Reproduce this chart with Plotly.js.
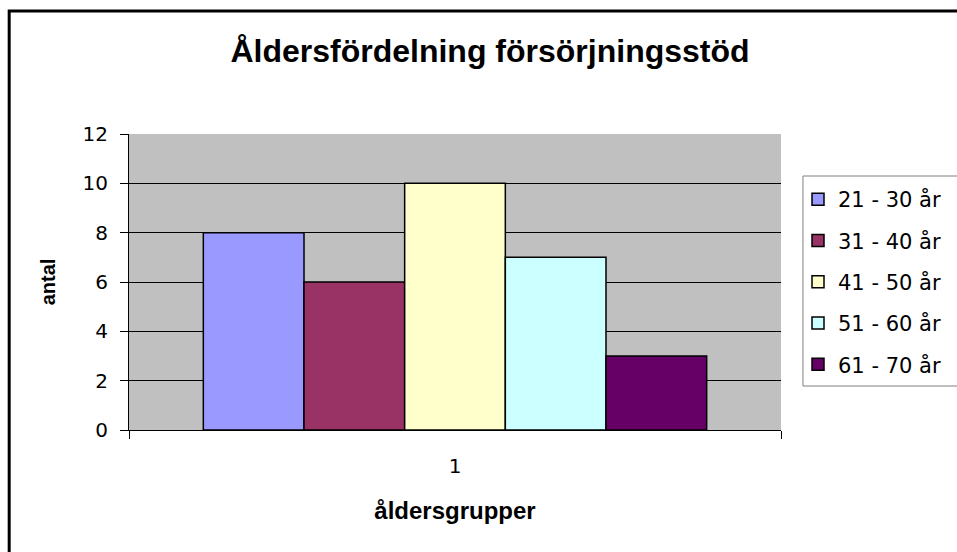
<!DOCTYPE html>
<html>
<head>
<meta charset="utf-8">
<script src="https://cdn.plot.ly/plotly-3.0.1.min.js"></script>
<style>html,body{margin:0;padding:0;background:#fff;}#chart{width:957px;height:552px;}</style>
</head>
<body>
<div id="chart"></div>
<script>
const categories = ['1'];
const seriesNames = ['21 - 30 år', '31 - 40 år', '41 - 50 år', '51 - 60 år', '61 - 70 år'];
const seriesValues = [[8], [6], [10], [7], [3]];
const seriesColors = ['#9999FF', '#993366', '#FFFFCC', '#CCFFFF', '#660066'];
const yTicks = [0, 2, 4, 6, 8, 10, 12];

const BOLD = 'Liberation Sans, Arial, sans-serif';
const WIDE = 'DejaVu Sans, Liberation Sans, sans-serif';
const traces = seriesNames.map((name, i) => ({
  type: 'bar',
  name: name,
  x: categories,
  y: seriesValues[i],
  legendgroup: 'g' + i,
  marker: {color: seriesColors[i], line: {color: '#000', width: 1.5}},
  hoverinfo: 'skip'
}));

const L = 129, R = 782, T = 134, B = 430, W = 957, H = 552;
const pw = R - L, ph = B - T;
const px = v => (v - L) / pw;
const py = v => (B - v) / ph;

const layout = {
  width: W, height: H,
  margin: {l: L, r: W - R, t: T, b: H - B, pad: 0},
  paper_bgcolor: '#ffffff',
  plot_bgcolor: '#C0C0C0',
  font: {family: WIDE, color: '#000', size: 20},
  barmode: 'group',
  bargap: 0.228,
  bargroupgap: 0,
  title: {text: '<b>Åldersfördelning försörjningsstöd</b>', font: {family: BOLD, size: 32, color: '#000'},
          x: 490 / W, xanchor: 'center', y: 1 - 51 / H, yanchor: 'middle'},
  xaxis: {
    type: 'category', range: [-0.5, 0.5],
    showline: true, linecolor: '#000', linewidth: 1,
    ticks: 'outside', tickson: 'boundaries', ticklen: 8, tickcolor: '#000', tickwidth: 1,
    ticklabelstandoff: 18,
    showgrid: false, zeroline: false,
    tickfont: {family: WIDE, size: 20, color: '#000'},
    title: {text: '<b>åldersgrupper</b>', font: {family: BOLD, size: 24, color: '#000'}, standoff: 25}
  },
  yaxis: {
    range: [0, 12], tickvals: yTicks, ticktext: yTicks.map(String),
    showline: true, linecolor: '#000', linewidth: 1,
    ticks: 'outside', ticklen: 8, tickcolor: '#000', tickwidth: 1,
    ticklabelstandoff: 8,
    showgrid: true, gridcolor: '#000', gridwidth: 1, zeroline: false,
    tickfont: {family: WIDE, size: 20, color: '#000'},
    title: {text: '<b>antal</b>', font: {family: BOLD, size: 20, color: '#000'}, standoff: 21}
  },
  showlegend: true,
  legend: {
    x: px(798), xanchor: 'left', y: py(179), yanchor: 'top',
    bgcolor: 'rgba(0,0,0,0)', borderwidth: 0,
    font: {family: WIDE, size: 21, color: '#000'},
    tracegroupgap: 11, traceorder: 'grouped'
  },
  shapes: [
    {type: 'rect', xref: 'paper', yref: 'paper', x0: px(9), x1: px(965), y0: py(560), y1: py(11),
     line: {color: '#000', width: 3}, fillcolor: 'rgba(0,0,0,0)'},
    {type: 'rect', xref: 'paper', yref: 'paper', x0: px(804), x1: px(962), y0: py(386), y1: py(176),
     line: {color: '#808080', width: 1}, fillcolor: 'rgba(0,0,0,0)'}
  ]
};

Plotly.newPlot('chart', traces, layout, {displayModeBar: false, staticPlot: true});
</script>
</body>
</html>
